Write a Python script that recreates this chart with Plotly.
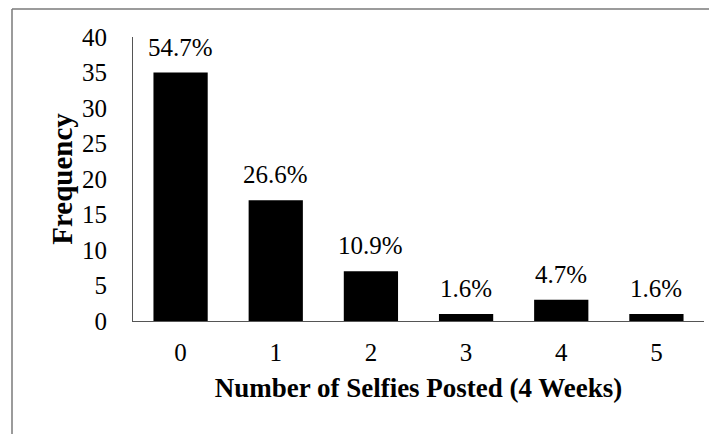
import plotly.graph_objects as go

categories = ["0", "1", "2", "3", "4", "5"]
frequency = [35, 17, 7, 1, 3, 1]
percent_labels = ["54.7%", "26.6%", "10.9%", "1.6%", "4.7%", "1.6%"]
y_ticks = [0, 5, 10, 15, 20, 25, 30, 35, 40]

W, H = 717, 434
off = 8  # page body margin
ml, mr, mt, mb = 133 - off, 13 + off, 37 - off, 113 + off

font = "Liberation Serif"

fig = go.Figure()
fig.add_trace(go.Bar(
    x=categories, y=frequency,
    marker=dict(color="black", line=dict(width=0)),
    width=0.57,
))

for c, v, t in zip(categories, frequency, percent_labels):
    fig.add_annotation(x=c, y=v, text=t, showarrow=False, yanchor="bottom",
                       yshift=10, font=dict(family=font, size=25, color="black"))

pw = W - ml - mr
ph = H - mt - mb
bx = (12 - off - ml) / pw
by = 1 + (mt - (9 - off)) / ph
fig.add_shape(type="line", xref="paper", yref="paper", x0=bx, x1=2, y0=by, y1=by,
              line=dict(color="#7a7a7a", width=1.5))
fig.add_shape(type="line", xref="paper", yref="paper", x0=bx, x1=bx, y0=by, y1=-2,
              line=dict(color="#7a7a7a", width=1.5))

fig.update_layout(
    width=W, height=H,
    margin=dict(l=ml, r=mr, t=mt, b=mb, autoexpand=False),
    paper_bgcolor="white", plot_bgcolor="white",
    showlegend=False,
    font=dict(family=font, color="black"),
    xaxis=dict(
        showline=True, linecolor="#555555", linewidth=1.2, automargin=False,
        ticks="", tickfont=dict(family=font, size=25), ticklabelstandoff=9,
        title=dict(text="<b>Number of Selfies Posted (4 Weeks)</b>",
                   font=dict(family=font, size=27), standoff=13),
        showgrid=False,
    ),
    yaxis=dict(
        range=[0, 40], tickvals=y_ticks, showline=True, linecolor="#555555", linewidth=1.2,
        automargin=False,
        ticks="", tickfont=dict(family=font, size=25), ticklabelstandoff=20,
        title=dict(text="<b>Frequency</b>", font=dict(family=font, size=29), standoff=0),
        showgrid=False, zeroline=False,
    ),
)

fig.write_html("out.html")
